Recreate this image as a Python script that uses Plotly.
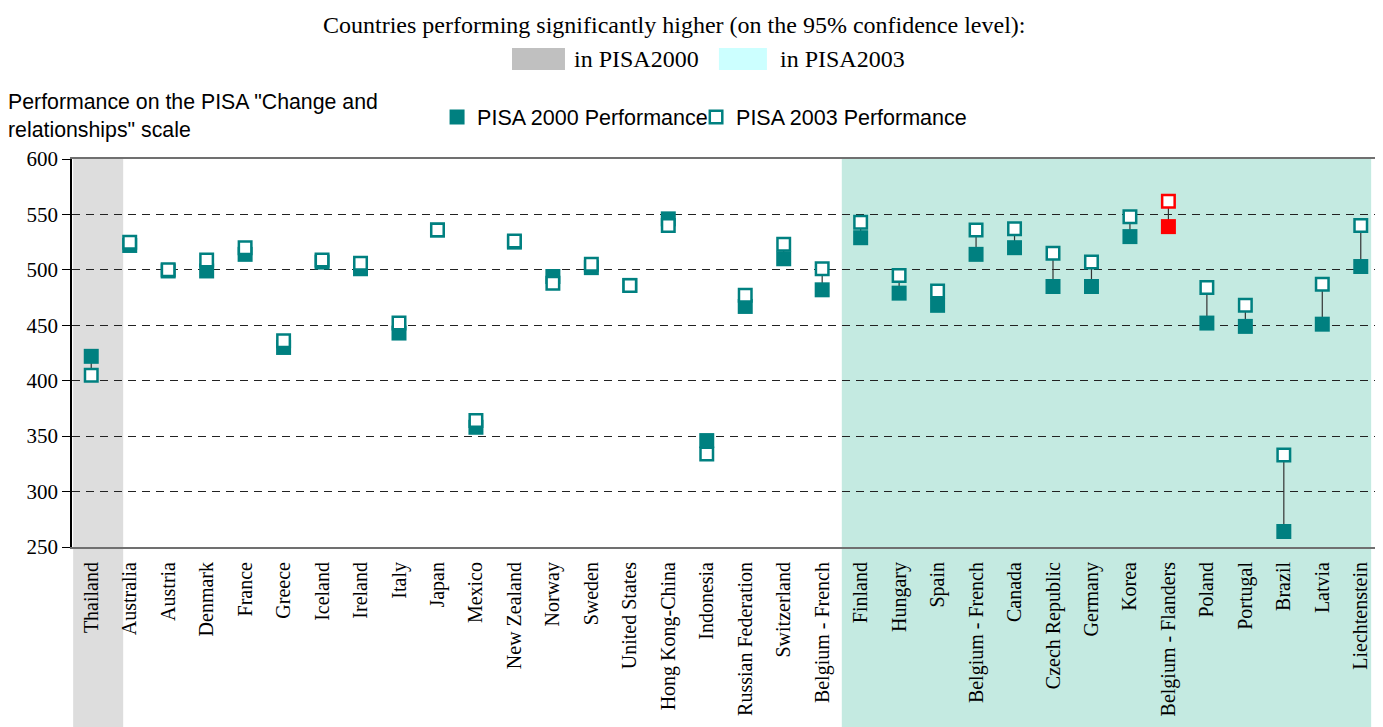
import plotly.graph_objects as go

countries = ["Thailand", "Australia", "Austria", "Denmark", "France", "Greece",
             "Iceland", "Ireland", "Italy", "Japan", "Mexico", "New Zealand",
             "Norway", "Sweden", "United States", "Hong Kong-China", "Indonesia",
             "Russian Federation", "Switzerland", "Belgium - French", "Finland",
             "Hungary", "Spain", "Belgium - French", "Canada", "Czech Republic",
             "Germany", "Korea", "Belgium - Flanders", "Poland", "Portugal",
             "Brazil", "Latvia", "Liechtenstein"]
pisa2000 = [422, 522, 499, 499, 514, 430, 507, 501, 443, 536, 358, 525, 494,
            502, 486, 546, 346, 467, 510, 482, 529, 479, 468, 514, 520, 485,
            485, 530, 539, 452, 449, 264, 451, 503]
pisa2003 = [405, 525, 500, 509, 520, 436, 509, 506, 452, 536, 364, 526, 488,
            505, 486, 540, 334, 477, 523, 501, 543, 495, 481, 536, 537, 515,
            507, 548, 562, 484, 468, 333, 487, 540]
highlight = "Belgium - Flanders"
y_ticks = [250, 300, 350, 400, 450, 500, 550, 600]

TEAL = "#008080"
RED = "#FF0000"
SERIF = "Liberation Serif"
SANS = "Liberation Sans"


def main():
    x = list(range(len(countries)))
    colors = [RED if c == highlight else TEAL for c in countries]

    # vertical connector between the two cycles
    lx, ly = [], []
    for i in x:
        lx += [i, i, None]
        ly += [pisa2000[i], pisa2003[i], None]

    fig = go.Figure()
    fig.add_trace(go.Scatter(x=lx, y=ly, mode="lines", showlegend=False,
                             line=dict(color="#333333", width=1.2), hoverinfo="skip"))
    fig.add_trace(go.Scatter(x=x, y=pisa2000, mode="markers", name="PISA 2000 Performance",
                             legend="legend",
                             marker=dict(symbol="square", size=15, color=colors,
                                         line=dict(width=0))))
    fig.add_trace(go.Scatter(x=x, y=pisa2003, mode="markers", name="PISA 2003 Performance",
                             legend="legend2",
                             marker=dict(symbol="square", size=12.5, color="white",
                                         line=dict(width=2.5, color=colors))))

    # shaded bands (significantly higher in 2000 / 2003)
    fig.add_shape(type="rect", xref="x", yref="paper", x0=-0.47, x1=0.83, y0=-0.5, y1=1,
                  fillcolor="#DDDDDD", line_width=0, layer="below")
    fig.add_shape(type="rect", xref="x", yref="paper", x0=19.51, x1=33.27, y0=-0.5, y1=1,
                  fillcolor="#C4EAE1", line_width=0, layer="below")
    # right border
    fig.add_shape(type="line", xref="paper", yref="paper", x0=1, x1=1, y0=0, y1=1,
                  line=dict(color="#808080", width=2))

    # header key
    fig.add_annotation(text="Countries performing significantly higher (on the 95% confidence level):",
                       xref="paper", yref="paper", x=0.4606, y=1.345, showarrow=False,
                       xanchor="center", yanchor="middle", font=dict(family=SERIF, size=24, color="black"))
    fig.add_shape(type="rect", xref="paper", yref="paper", x0=0.3364, x1=0.3769, y0=1.2294, y1=1.2861,
                  fillcolor="#C0C0C0", line_width=0)
    fig.add_shape(type="rect", xref="paper", yref="paper", x0=0.4946, x1=0.5313, y0=1.2294, y1=1.2861,
                  fillcolor="#CCFFFF", line_width=0)
    fig.add_annotation(text="in PISA2000", xref="paper", yref="paper", x=0.3823, y=1.2577,
                       showarrow=False, xanchor="left", yanchor="middle",
                       font=dict(family=SERIF, size=24, color="black"))
    fig.add_annotation(text="in PISA2003", xref="paper", yref="paper", x=0.5398, y=1.2577,
                       showarrow=False, xanchor="left", yanchor="middle",
                       font=dict(family=SERIF, size=24, color="black"))

    fig.add_annotation(text='Performance on the PISA "Change and<br>relationships" scale',
                       xref="paper", yref="paper", x=-0.0505, y=1.183, showarrow=False,
                       xanchor="left", yanchor="top", align="left",
                       font=dict(family=SANS, size=21.3, color="black"))

    legend_font = dict(family=SANS, size=21.5, color="black")
    # page body adds an 8px offset, margins compensate for it
    fig.update_layout(
        width=1383, height=727,
        margin=dict(l=64, r=11, t=151, b=188),
        paper_bgcolor="white", plot_bgcolor="white",
        showlegend=True,
        legend=dict(orientation="h", x=0.2791, y=1.108, xanchor="left", yanchor="middle",
                    font=legend_font, bgcolor="rgba(0,0,0,0)"),
        legend2=dict(orientation="h", x=0.4771, y=1.108, xanchor="left", yanchor="middle",
                     font=legend_font, bgcolor="rgba(0,0,0,0)"),
        xaxis=dict(range=[-0.5, 33.5], tickmode="array", tickvals=x, ticktext=countries,
                   tickangle=-90, ticks="outside", ticklen=5, tickcolor="rgba(0,0,0,0)",
                   tickfont=dict(family=SERIF, size=20, color="black"), automargin=False,
                   showgrid=False, zeroline=False, showline=True, mirror=True,
                   linecolor="#707070", linewidth=2),
        yaxis=dict(range=[250, 600], tickmode="array", tickvals=y_ticks,
                   ticks="outside", ticklen=8, tickcolor="black", automargin=False,
                   tickfont=dict(family=SERIF, size=21, color="black"),
                   showgrid=True, gridcolor="#222222", gridwidth=1, griddash="8px,6px",
                   zeroline=False, showline=True, linecolor="black", linewidth=1.5),
    )
    fig.write_html("out.html")


if __name__ == "__main__":
    main()
